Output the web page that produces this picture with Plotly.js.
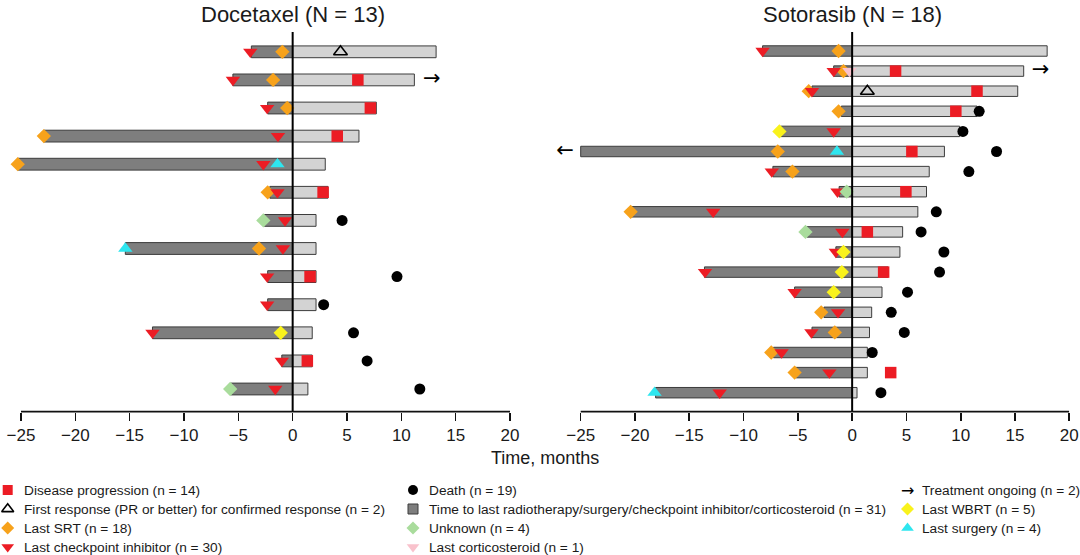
<!DOCTYPE html>
<html><head><meta charset="utf-8">
<script src="https://cdn.plot.ly/plotly-3.0.1.min.js"></script>
<style>html,body{margin:0;padding:0;background:#fff}#chart{width:1080px;height:555px}</style>
</head><body><div id="chart"></div>
<script>
// ---------------- DATA ----------------
const panelTitles = ['Docetaxel (N = 13)', 'Sotorasib (N = 18)'];
const xTitle = 'Time, months';
const tickValues = [-25, -20, -15, -10, -5, 0, 5, 10, 15, 20];

// Docetaxel (rows numbered from top, 1..13)
const docStart = [-3.8, -5.5, -2.3, -22.9, -25.3, -2.1, -2.6, -15.4, -2.3, -2.3, -12.9, -1.0, -5.7];
const docEnd   = [13.2, 11.2, 7.7, 6.1, 3.0, 3.25, 2.15, 2.15, 2.15, 2.15, 1.8, 1.8, 1.4];
const docProgRow = [2, 3, 4, 6, 9, 12];            const docProgX = [6.0, 7.15, 4.1, 2.8, 1.6, 1.35];
const docRespRow = [1];                            const docRespX = [4.4];
const docSrtRow  = [1, 2, 3, 4, 5, 6, 8];          const docSrtX  = [-0.95, -1.8, -0.5, -22.9, -25.3, -2.3, -3.1];
const docCpiRow  = [1, 2, 3, 4, 5, 6, 7, 8, 9, 10, 11, 12, 13];
const docCpiX    = [-3.9, -5.5, -2.35, -1.35, -2.7, -1.4, -0.7, -0.9, -2.35, -2.35, -12.9, -1.0, -1.6];
const docDeathRow = [7, 9, 10, 11, 12, 13];        const docDeathX = [4.55, 9.6, 2.85, 5.6, 6.85, 11.7];
const docUnkRow  = [7, 13];                        const docUnkX  = [-2.7, -5.75];
const docCortRow = [];                             const docCortX = [];
const docWbrtRow = [11];                           const docWbrtX = [-1.1];
const docSurgRow = [5, 8];                         const docSurgX = [-1.4, -15.4];
const docOngoingRow = [2];                         const docOngoingX = [12.8]; const docOngoingDir = ['→'];

// Sotorasib (rows numbered from top, 1..18)
const sotoStart = [-8.25, -1.7, -3.7, -1.0, -6.6, -25.0, -7.3, -1.2, -20.4, -4.15, -1.5, -13.6, -5.3, -2.6, -3.7, -7.25, -5.2, -18.1];
const sotoEnd   = [17.96, 15.8, 15.25, 11.5, 9.9, 8.5, 7.1, 6.85, 6.05, 4.65, 4.4, 3.3, 2.75, 1.8, 1.6, 1.4, 1.4, 0.45];
const sotoProgRow = [2, 3, 4, 6, 8, 10, 12, 17];   const sotoProgX = [4.0, 11.5, 9.55, 5.5, 4.95, 1.4, 2.9, 3.55];
const sotoRespRow = [3];                           const sotoRespX = [1.4];
const sotoSrtRow  = [1, 2, 3, 4, 6, 7, 9, 14, 15, 16, 17];
const sotoSrtX    = [-1.25, -0.8, -4.0, -1.25, -6.85, -5.5, -20.4, -2.85, -1.6, -7.45, -5.3];
const sotoCpiRow  = [1, 2, 3, 5, 7, 8, 9, 10, 11, 12, 13, 14, 15, 16, 17, 18];
const sotoCpiX    = [-8.25, -1.7, -3.7, -1.7, -7.4, -1.35, -12.8, -0.9, -1.5, -13.55, -5.3, -1.3, -3.75, -6.5, -2.1, -12.2];
const sotoDeathRow = [4, 5, 6, 7, 9, 10, 11, 12, 13, 14, 15, 16, 18];
const sotoDeathX   = [11.7, 10.2, 13.3, 10.75, 7.75, 6.35, 8.45, 8.05, 5.1, 3.6, 4.8, 1.85, 2.65];
const sotoUnkRow  = [8, 10];                       const sotoUnkX  = [-0.5, -4.3];
const sotoCortRow = [2];                           const sotoCortX = [-0.25];
const sotoWbrtRow = [5, 11, 12, 13];               const sotoWbrtX = [-6.7, -0.8, -0.95, -1.7];
const sotoSurgRow = [6, 18];                       const sotoSurgX = [-1.4, -18.2];
const sotoOngoingRow = [2, 6];                     const sotoOngoingX = [17.35, -26.45]; const sotoOngoingDir = ['→', '←'];

// Legend labels
const legendCol1 = ['Disease progression (n = 14)', 'First response (PR or better) for confirmed response (n = 2)', 'Last SRT (n = 18)', 'Last checkpoint inhibitor (n = 30)'];
const legendCol2 = ['Death (n = 19)', 'Time to last radiotherapy/surgery/checkpoint inhibitor/corticosteroid (n = 31)', 'Unknown (n = 4)', 'Last corticosteroid (n = 1)'];
const legendCol3 = ['Treatment ongoing (n = 2)', 'Last WBRT (n = 5)', 'Last surgery (n = 4)'];

// ---------------- STYLE ----------------
const W = 1080, H = 555;
const FONT = 'Liberation Sans, Arial, Helvetica, sans-serif';
const ARROWFONT = 'DejaVu Sans, Liberation Sans, sans-serif';
const TXT = '#1a1a1a';
const C = {
  red: '#ec1c24', orange: '#f7a21b', green: '#a9dc9c', cyan: '#2ee6ef',
  yellow: '#f9f21c', pink: '#f9c2cc', dark: '#7e7e7e', light: '#d3d3d3', outline: '#3c3c3c'
};
const S = {
  prog:  {symbol: 'square', color: C.red, size: 11.5, opacity: 1},
  resp:  {symbol: 'triangle-up-open', color: '#000', size: 12, opacity: 1, line: {width: 1.6, color: '#000'}},
  srt:   {symbol: 'diamond', color: C.orange, size: 11, opacity: 1},
  cpi:   {symbol: 'triangle-down', color: C.red, size: 12.5, opacity: 1},
  death: {symbol: 'circle', color: '#000', size: 11, opacity: 1},
  unk:   {symbol: 'diamond', color: C.green, size: 11, opacity: 1},
  cort:  {symbol: 'triangle-down', color: C.pink, size: 12.5, opacity: 1},
  wbrt:  {symbol: 'diamond', color: C.yellow, size: 11, opacity: 1},
  surg:  {symbol: 'triangle-up', color: C.cyan, size: 12.5, opacity: 1}
};

// pixel geometry of panels
const yBottomPx = 411.7, yTopPx = 32;
const panels = [
  {xa: 'x', ya: 'y', xRange: [-26, 20], pxMinus25: 21, px20: 510, n: 13, yRange: [0.192, 13.705], barW: 0.42},
  {xa: 'x2', ya: 'y2', xRange: [-27.5, 20], pxMinus25: 580.7, px20: 1069.3, n: 18, yRange: [0.055, 18.945], barW: 0.52}
];
panels.forEach(p => {
  const k = (p.px20 - p.pxMinus25) / 45;
  const pxL = p.pxMinus25 + (p.xRange[0] + 25) * k;
  const pxR = p.pxMinus25 + (p.xRange[1] + 25) * k;
  p.domain = [pxL / W, pxR / W];
});
const yDomain = [(H - yBottomPx) / H, (H - yTopPx) / H];

const toY = (n, rows) => rows.map(r => n - r + 1);
const seq = n => Array.from({length: n}, (_, i) => i + 1);

const data = [];
function addPanel(p, d) {
  const rowsAll = seq(p.n);
  data.push({type: 'bar', orientation: 'h', x: d.start, y: toY(p.n, rowsAll), width: p.barW,
    xaxis: p.xa, yaxis: p.ya, marker: {color: C.dark, line: {color: C.outline, width: 1}}, hoverinfo: 'skip'});
  data.push({type: 'bar', orientation: 'h', x: d.end, y: toY(p.n, rowsAll), width: p.barW,
    xaxis: p.xa, yaxis: p.ya, marker: {color: C.light, line: {color: C.outline, width: 1}}, hoverinfo: 'skip'});
  const order = ['srt', 'cpi', 'unk', 'wbrt', 'cort', 'surg', 'prog', 'resp', 'death'];
  order.forEach(key => {
    const xs = d[key + 'X'], rows = d[key + 'Row'];
    if (!xs.length) return;
    data.push({type: 'scatter', mode: 'markers', x: xs, y: toY(p.n, rows), xaxis: p.xa, yaxis: p.ya,
      marker: S[key], cliponaxis: false, hoverinfo: 'skip'});
  });
  data.push({type: 'scatter', mode: 'text', x: d.ongoingX, y: toY(p.n, d.ongoingRow), text: d.ongoingDir,
    textposition: 'middle center', textfont: {family: ARROWFONT, size: 21, color: '#000'},
    xaxis: p.xa, yaxis: p.ya, cliponaxis: false, hoverinfo: 'skip'});
}
addPanel(panels[0], {start: docStart, end: docEnd, progX: docProgX, progRow: docProgRow, respX: docRespX, respRow: docRespRow,
  srtX: docSrtX, srtRow: docSrtRow, cpiX: docCpiX, cpiRow: docCpiRow, deathX: docDeathX, deathRow: docDeathRow,
  unkX: docUnkX, unkRow: docUnkRow, cortX: docCortX, cortRow: docCortRow, wbrtX: docWbrtX, wbrtRow: docWbrtRow,
  surgX: docSurgX, surgRow: docSurgRow, ongoingX: docOngoingX, ongoingRow: docOngoingRow, ongoingDir: docOngoingDir});
addPanel(panels[1], {start: sotoStart, end: sotoEnd, progX: sotoProgX, progRow: sotoProgRow, respX: sotoRespX, respRow: sotoRespRow,
  srtX: sotoSrtX, srtRow: sotoSrtRow, cpiX: sotoCpiX, cpiRow: sotoCpiRow, deathX: sotoDeathX, deathRow: sotoDeathRow,
  unkX: sotoUnkX, unkRow: sotoUnkRow, cortX: sotoCortX, cortRow: sotoCortRow, wbrtX: sotoWbrtX, wbrtRow: sotoWbrtRow,
  surgX: sotoSurgX, surgRow: sotoSurgRow, ongoingX: sotoOngoingX, ongoingRow: sotoOngoingRow, ongoingDir: sotoOngoingDir});

// ---------------- LEGEND (custom, on a full-page overlay axis) ----------------
const legRowPx = [490, 509, 528, 547];
const legCols = [
  {symX: 7.7, txtX: 22.5, labels: legendCol1, keys: ['prog', 'resp', 'srt', 'cpi']},
  {symX: 413, txtX: 427.5, labels: legendCol2, keys: ['death', 'bar', 'unk', 'cort']},
  {symX: 907.5, txtX: 920.5, labels: legendCol3, keys: ['arrow', 'wbrt', 'surg']}
];
const legSym = {
  prog:  {symbol: 'square', color: C.red, size: 10, lw: 0, lc: C.red},
  resp:  {symbol: 'triangle-up-open', color: '#000', size: 10.5, lw: 1.6, lc: '#000'},
  srt:   {symbol: 'diamond', color: C.orange, size: 10, lw: 0, lc: C.orange},
  cpi:   {symbol: 'triangle-down', color: C.red, size: 11, lw: 0, lc: C.red},
  death: {symbol: 'circle', color: '#000', size: 10, lw: 0, lc: '#000'},
  bar:   {symbol: 'square', color: C.dark, size: 10, lw: 1, lc: C.outline},
  unk:   {symbol: 'diamond', color: C.green, size: 10, lw: 0, lc: C.green},
  cort:  {symbol: 'triangle-down', color: C.pink, size: 11, lw: 0, lc: C.pink},
  wbrt:  {symbol: 'diamond', color: C.yellow, size: 10, lw: 0, lc: C.yellow},
  surg:  {symbol: 'triangle-up', color: C.cyan, size: 11, lw: 0, lc: C.cyan}
};
const lx = [], ly = [], lsym = [], lcol = [], lsz = [], llw = [], llc = [];
const annotations = [];
legCols.forEach(col => {
  col.labels.forEach((lab, i) => {
    const key = col.keys[i];
    if (key === 'arrow') {
      annotations.push({xref: 'paper', yref: 'paper', x: col.symX / W, y: 1 - legRowPx[i] / H, xanchor: 'center', yanchor: 'middle',
        text: '→', showarrow: false, borderpad: 0, font: {family: ARROWFONT, size: 16, color: '#000'}});
    } else {
      const s = legSym[key];
      lx.push(col.symX); ly.push(legRowPx[i]); lsym.push(s.symbol); lcol.push(s.color);
      lsz.push(s.size); llw.push(s.lw); llc.push(s.lc);
    }
    annotations.push({xref: 'paper', yref: 'paper', x: col.txtX / W, y: 1 - legRowPx[i] / H, xanchor: 'left', yanchor: 'middle',
      text: lab, showarrow: false, borderpad: 0, font: {family: FONT, size: 13.7, color: TXT}});
  });
});
data.push({type: 'scatter', mode: 'markers', x: lx, y: ly, xaxis: 'x3', yaxis: 'y3', cliponaxis: false, hoverinfo: 'skip',
  marker: {symbol: lsym, color: lcol, size: lsz, opacity: 1, line: {width: llw, color: llc}}});

// titles
panels.forEach((p, i) => {
  annotations.push({xref: p.xa, yref: 'paper', x: 0, y: 1 - 14.3 / H, xanchor: 'center', yanchor: 'middle',
    text: panelTitles[i], showarrow: false, font: {family: FONT, size: 22, color: TXT}});
});
annotations.push({xref: 'paper', yref: 'paper', x: 545.5 / W, y: 1 - 458 / H, xanchor: 'center', yanchor: 'middle',
  text: xTitle, showarrow: false, font: {family: FONT, size: 18, color: TXT}});

// shapes: zero lines (above) and axis lines
const shapes = [];
panels.forEach(p => {
  shapes.push({type: 'line', xref: p.xa, yref: p.ya + ' domain', x0: 0, x1: 0, y0: 0, y1: 1, layer: 'above',
    line: {color: '#000', width: 2}});
  shapes.push({type: 'line', xref: p.xa, yref: p.ya + ' domain', x0: tickValues[0], x1: tickValues[tickValues.length - 1], y0: 0, y1: 0,
    layer: 'above', line: {color: '#111', width: 1.8}});
});

const xaxisBase = {
  tickvals: tickValues, ticks: 'outside', ticklen: 8, tickwidth: 1.6, tickcolor: '#111',
  showline: false, zeroline: false, showgrid: false, fixedrange: true,
  tickfont: {family: FONT, size: 17, color: TXT}
};
const layout = {
  width: W, height: H, margin: {l: 0, r: 0, t: 0, b: 0},
  paper_bgcolor: '#fff', plot_bgcolor: 'rgba(0,0,0,0)',
  showlegend: false, barmode: 'overlay', font: {family: FONT, color: TXT},
  xaxis:  Object.assign({}, xaxisBase, {domain: panels[0].domain, range: panels[0].xRange, anchor: 'y'}),
  yaxis:  {domain: yDomain, range: panels[0].yRange, visible: false, anchor: 'x', fixedrange: true},
  xaxis2: Object.assign({}, xaxisBase, {domain: panels[1].domain, range: panels[1].xRange, anchor: 'y2'}),
  yaxis2: {domain: yDomain, range: panels[1].yRange, visible: false, anchor: 'x2', fixedrange: true},
  xaxis3: {domain: [0, 1], range: [0, W], visible: false, anchor: 'y3', fixedrange: true},
  yaxis3: {domain: [0, 1], range: [H, 0], visible: false, anchor: 'x3', fixedrange: true},
  annotations: annotations, shapes: shapes
};
Plotly.newPlot('chart', data, layout, {displayModeBar: false, staticPlot: true});
</script></body></html>
